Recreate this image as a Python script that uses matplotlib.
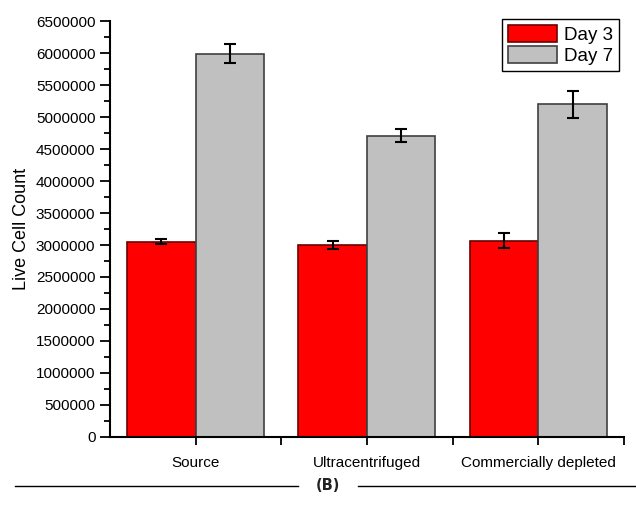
import numpy as np
import matplotlib.pyplot as plt
from matplotlib.lines import Line2D
from matplotlib.ticker import MultipleLocator, FixedLocator

plt.rcParams['font.family'] = ['Liberation Sans', 'DejaVu Sans']

# data
categories = ['Source', 'Ultracentrifuged', 'Commercially depleted']
day3 = [3050000, 3000000, 3070000]
day3_err = [40000, 60000, 110000]
day7 = [5990000, 4710000, 5200000]
day7_err = [150000, 100000, 210000]
series_labels = ['Day 3', 'Day 7']

fig = plt.figure(figsize=(6.36, 5.05), dpi=100)
ax = fig.add_axes([0.173, 0.135, 0.808, 0.823])

x = np.arange(1, len(categories) + 1)
w = 0.4
err_kw = dict(ecolor='black', elinewidth=1.5, capsize=4.5, capthick=1.5)
ax.bar(x - w / 2, day3, w, yerr=day3_err, color='#ff0000', edgecolor='#6b0000',
       linewidth=1.2, label=series_labels[0], error_kw=err_kw)
ax.bar(x + w / 2, day7, w, yerr=day7_err, color='#c0c0c0', edgecolor='#404040',
       linewidth=1.2, label=series_labels[1], error_kw=err_kw)

ax.set_xlim(0.5, 3.5)
ax.set_ylim(0, 6500000)
ax.set_xticks(x)
ax.set_xticklabels(categories, fontsize=11)
ax.xaxis.set_minor_locator(FixedLocator([1.5, 2.5, 3.5]))
ax.yaxis.set_major_locator(MultipleLocator(500000))
ax.yaxis.set_minor_locator(MultipleLocator(250000))
ax.ticklabel_format(axis='y', style='plain')
ax.tick_params(axis='y', labelsize=11, direction='out', length=7, width=1.3)
ax.tick_params(axis='y', which='minor', length=4, width=1.3)
ax.tick_params(axis='x', which='both', direction='out', length=6, width=1.3, pad=8)
ax.set_ylabel('Live Cell Count', fontsize=13, labelpad=4)

for s in ['top', 'right']:
    ax.spines[s].set_visible(False)
for s in ['left', 'bottom']:
    ax.spines[s].set_linewidth(1.5)

leg = ax.legend(loc='upper right', bbox_to_anchor=(0.99, 1.005), fontsize=13.5,
                fancybox=False, edgecolor='black', framealpha=1,
                handlelength=2.6, handleheight=1.0, handletextpad=0.4,
                borderpad=0.3, labelspacing=0.15, borderaxespad=0.0)
leg.get_frame().set_linewidth(1.0)

# caption line with (B)
yl = 1 - 486 / 505
fig.add_artist(Line2D([15 / 636, 298 / 636], [yl, yl], color='black', linewidth=1.0))
fig.add_artist(Line2D([358 / 636, 1.0], [yl, yl], color='black', linewidth=1.0))
fig.text(328 / 636, yl, '(B)', ha='center', va='center', fontsize=10.5,
         fontweight='bold', family='DejaVu Sans', color='#222222')

fig.savefig('out.png', dpi=100)
